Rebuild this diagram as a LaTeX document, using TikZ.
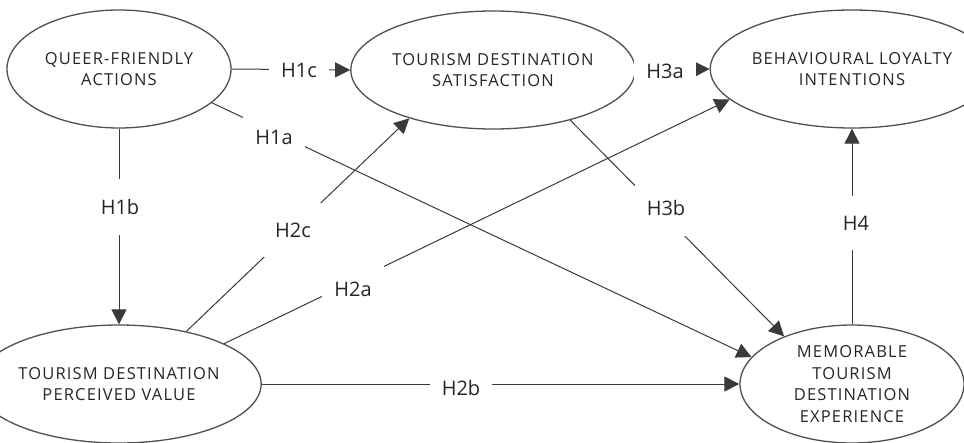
\documentclass[tikz,border=0pt]{standalone}
\usepackage{fontspec}
\setmainfont{Open Sans}
\newfontfamily\boxfont[LetterSpace=7]{Open Sans}
\usetikzlibrary{shapes.geometric,arrows.meta}
\definecolor{ellcol}{HTML}{505050}
\definecolor{lncol}{HTML}{3A3A3A}
\definecolor{txtcol}{HTML}{262626}
\begin{document}
\begin{tikzpicture}[x=1pt,y=-1pt,
  var/.style={ellipse, draw=ellcol, line width=1.3pt, minimum width=224pt, minimum height=118pt, inner sep=0pt, align=center, text=txtcol, font=\boxfont\fontsize{16.5}{21.5}\selectfont},
  conn/.style={draw=lncol, line width=1pt},
  arr/.style={conn, -{Triangle[length=15pt,width=15pt]}},
  hyp/.style={fill=white, text=txtcol, font=\fontsize{20}{23}\selectfont, inner xsep=12pt, inner ysep=20pt}
]
\useasboundingbox[fill=white] (0,0) rectangle (964,442);

\node[var] (qf)   at (119,69)  {QUEER-FRIENDLY\\ACTIONS};
\node[var] (tds)  at (493,70)  {TOURISM DESTINATION\\SATISFACTION};
\node[var] (bli)  at (852,69)  {BEHAVIOURAL LOYALTY\\INTENTIONS};
\node[var] (tdpv) at (119,384) {TOURISM DESTINATION\\PERCEIVED VALUE};
\node[var] (mtde) at (852,384) {MEMORABLE\\TOURISM\\DESTINATION\\EXPERIENCE};

\draw[arr] (qf.east) -- (tds.west);
\draw[arr] (tds.east) -- (bli.west);
\draw[arr] (qf.south) -- (tdpv.north);
\draw[arr] (tdpv.east) -- (mtde.west);
\draw[arr] (mtde.north) -- (bli.south);
\draw[arr] (qf.-20) -- (mtde.165);
\draw[arr] (tdpv.38.6) -- (tds.210.5);
\draw[arr] (tdpv.21.4) -- (bli.194.6);
\draw[arr] (tds.-33.7) -- (mtde.145.6);

\node[hyp] (l1c) at (299,70)  {H1c};
\node[hyp] (l3a) at (665,71)  {H3a};
\node[hyp] (l1b) at (120,207) {H1b};
\node[hyp] (l1a) at (274,137) {H1a};
\node[hyp] (l2c) at (293,230) {H2c};
\node[hyp] (l2a) at (353,289) {H2a};
\node[hyp] (l3b) at (666,208) {H3b};
\node[hyp] (l4)  at (856,223) {H4};
\node[hyp] (l2b) at (461,388) {H2b};
\end{tikzpicture}
\end{document}
